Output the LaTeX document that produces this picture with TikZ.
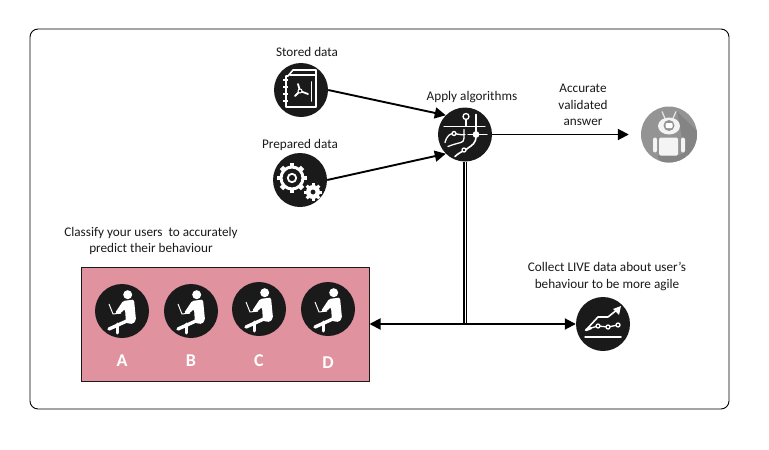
\documentclass[tikz,border=0pt]{standalone}
\usepackage{fontspec}
\setmainfont{Carlito}
\usetikzlibrary{arrows.meta}
\definecolor{iconblack}{HTML}{1A1A1A}
\definecolor{boxpink}{HTML}{E0929F}
\definecolor{botgrey}{HTML}{949494}
\definecolor{botshade}{HTML}{848484}
\tikzset{
  icon/.style={circle,fill=iconblack,minimum size=54pt,inner sep=0pt},
  botnode/.style={circle,fill=botgrey,minimum size=56pt,inner sep=0pt},
  lbl/.style={align=center,font=\fontsize{13.2pt}{16.5pt}\selectfont,text=iconblack,inner sep=0pt},
  letter/.style={font=\fontsize{18pt}{18pt}\selectfont\bfseries,text=white,inner sep=0pt},
  link/.style={line width=1.9pt,-{Triangle[length=11pt,width=11pt]}},
  twolink/.style={{Triangle[length=11pt,width=11pt]}-{Triangle[length=11pt,width=11pt]},line width=1.9pt},
  wline/.style={draw=white,line width=1.3pt,line cap=round,line join=round},
  sitter/.pic={
    \fill[white] (5.7,-16.3) circle (4.5);
    \fill[white,rounded corners=1.5pt] (1,-10) -- (12,-11.5) -- (14,9) -- (11,13) -- (4,12) -- (3,-2) -- (-3,3.5) -- (-7,2) -- cycle;
    \draw[white,line width=3.4pt,line cap=round] (7,9) -- (-13,18);
    \draw[white,line width=3pt,line cap=round] (-5,13) -- (-5,22);
    \draw[white,line width=1pt,line join=round] (-13,-7) -- (-9,3) -- (-1,2);
  },
  safeicon/.pic={
    \draw[wline,line width=1.6pt] (-13,-14) -- (-8,-20) -- (15,-20) -- (15,17) -- (-15,17) -- (-15,-14) -- cycle;
    \draw[wline] (-11,-15) -- (15,-15);
    \foreach \ty in {-10,-3,4,11}
      \draw[white,line width=2.5pt] (-18,\ty) -- (-13,\ty);
    \draw[wline,line width=1.6pt] (10.5,-8) -- (10.5,11);
    \draw[wline,line width=1.8pt] (-1,1) -- (-3,-6) (-1,1) -- (7,4) (-1,1) -- (-6,6);
    \draw[white,fill=iconblack,line width=1pt] (-1,1) circle (2);
  },
  gearsicon/.pic={
    \begin{scope}[shift={(-8,-2)}]
      \foreach \ang in {0,45,...,315}
        \fill[white,rotate=\ang] (-2.4,-15) rectangle (2.4,-11);
      \draw[white,line width=3pt] (0,0) circle (11);
      \draw[white,line width=1.8pt] (0,0) circle (4.2);
    \end{scope}
    \begin{scope}[shift={(13,12)}]
      \foreach \ang in {0,45,...,315}
        \fill[white,rotate=\ang] (-1.5,-9) rectangle (1.5,-6);
      \fill[white,even odd rule] (0,0) circle (7) (0,0) circle (2.6);
    \end{scope}
  },
  algoicon/.pic={
    \draw[wline] (-21,-8) -- (20,-8);
    \draw[wline] (3,0) -- (22,0);
    \draw[wline,line width=1.6pt] (11,-20) -- (11,1) .. controls (11,9) and (8,10) .. (1,15) .. controls (-3,17) and (-7,19) .. (-10,22);
    \fill[white] (11,0) circle (3.4);
    \draw[wline,fill=iconblack] (1,-18) circle (3);
    \draw[wline] (1,-15) -- (1,-9);
    \draw[wline] (-20,8) .. controls (-18,1) and (-15,-1) .. (-11,-1) .. controls (-7,-1) and (-5,1) .. (0,0);
    \draw[wline] (-17,12) .. controls (-12,10) and (-8,9) .. (-4,8) .. controls (0,7) and (-1,2) .. (-1,-5);
    \draw[wline,fill=iconblack] (-11,-1) circle (2);
    \draw[wline,fill=iconblack] (-1,15.5) circle (2);
  },
  boticon/.pic={
    \clip (0,0) circle (28);
    \fill[botshade] (8,-23) -- (40,8) -- (40,40) -- (-2,40) -- (-12,21) -- (9,21) -- (16,18) -- cycle;
    \draw[white!80!botgrey,line width=1.2pt] (-7,-23) -- (-4,-16) (7,-23) -- (4,-16);
    \fill[white!90!botgrey] (0,-8.5) ellipse (11 and 8.5);
    \fill[botgrey] (0,-9) circle (5.5);
    \fill[white,rounded corners=1pt] (-3.5,-11.5) rectangle (3.5,-6.5);
    \fill[white!90!botgrey,rounded corners=1.5pt] (-10,3) rectangle (9,21);
    \fill[white!90!botgrey,rounded corners=2pt] (-16,3) rectangle (-12,18);
    \fill[white!90!botgrey,rounded corners=2pt] (12,3) rectangle (16,18);
  },
  charticon/.pic={
    \draw[wline,line width=1.5pt] (-18,13) -- (18,13);
    \draw[wline,line width=1.6pt] (-17,6) -- (-5,-7) -- (5,-7) -- (15,-15);
    \fill[white] (18,-18) -- (16,-9) -- (10,-15) -- cycle;
    \draw[wline,line width=2.5pt] (-17,6) -- (-12,4);
    \draw[wline] (-12,4) -- (-5,2) -- (5,3) -- (15,1);
    \foreach \px/\py in {-5/2,5/3,15/1}
      \draw[wline,fill=iconblack] (\px,\py) circle (2);
  },
}
\begin{document}
\begin{tikzpicture}[x=1pt,y=-1pt]
\useasboundingbox (0,0) rectangle (769,450);
\fill[white] (0,0) rectangle (769,450);
\draw[black,line width=0.9pt,rounded corners=8pt] (30,29) rectangle (729,409);
\node[draw=iconblack,line width=1pt,fill=boxpink,minimum width=288pt,minimum height=114pt,inner sep=0pt] (usersbox) at (225,324) {};

\node[icon] (stored) at (301,90) {};
\node[icon] (prepared) at (300,180) {};
\node[icon] (algo) at (465,134.5) {};
\node[botnode] (bot) at (669,134.5) {};
\node[icon] (live) at (603,324) {};
\node[icon] (userA) at (122,311) {};
\node[icon] (userB) at (191,311) {};
\node[icon] (userC) at (259,309) {};
\node[icon] (userD) at (328,309) {};
\coordinate (split) at (465,324);

\pic at (stored) {safeicon};
\pic at (prepared) {gearsicon};
\pic at (algo) {algoicon};
\pic at (bot) {boticon};
\pic at (live) {charticon};
\foreach \who in {userA,userB,userC,userD}
  \pic at (\who) {sitter};

\node[lbl] (storedlbl) at (307,52) {Stored data};
\node[lbl] (preparedlbl) at (300,144.5) {Prepared data};
\node[lbl] (algolbl) at (472,97) {Apply algorithms};
\node[lbl] (botlbl) at (583,105) {Accurate\\validated\\answer};
\node[lbl] (livelbl) at (607,276.5) {Collect LIVE data about user's\\behaviour to be more agile};
\node[lbl] (userslbl) at (151,241) {Classify your users\ \ to accurately\\predict their behaviour};
\node[letter] (letterA) at (122,361) {A};
\node[letter] (letterB) at (191,361) {B};
\node[letter] (letterC) at (259,361) {C};
\node[letter] (letterD) at (328,363) {D};

\draw[link] (stored.east) -- (algo.north west);
\draw[link] (prepared.east) -- (algo.south west);
\draw[link,shorten >=12pt] (algo.east) -- (bot.west);
\draw[black,line width=2.2pt,double=white,double distance=0.4pt] (algo.south) -- (split);
\draw[twolink] (usersbox.east) -- (split) -- (live.west);
\end{tikzpicture}
\end{document}
